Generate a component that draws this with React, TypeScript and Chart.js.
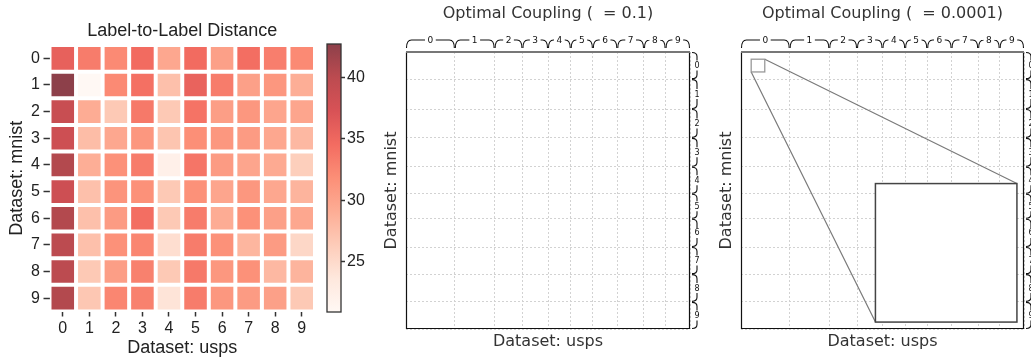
import React, { useEffect, useRef } from 'react';
import { Chart, registerables } from 'chart.js';

Chart.register(...registerables);

// ---------------- data ----------------
const HEAT_COLS = ['0', '1', '2', '3', '4', '5', '6', '7', '8', '9'];
const HEAT_ROWS = ['0', '1', '2', '3', '4', '5', '6', '7', '8', '9'];

const DIST_ROW_0 = [35.7, 33.3, 32.2, 34.6, 29.6, 34.6, 30.3, 34.4, 33.1, 32.2];
const DIST_ROW_1 = [42.7, 20.9, 32.2, 34.2, 27.4, 35.5, 33.3, 30.3, 31.1, 29.0];
const DIST_ROW_2 = [38.8, 29.2, 26.6, 33.5, 26.6, 34.0, 30.5, 31.1, 29.8, 29.8];
const DIST_ROW_3 = [38.3, 27.7, 29.6, 31.1, 27.0, 31.8, 31.1, 30.7, 29.6, 28.1];
const DIST_ROW_4 = [40.5, 29.0, 31.6, 33.3, 22.2, 33.8, 30.7, 29.8, 29.4, 26.1];
const DIST_ROW_5 = [38.3, 27.4, 31.4, 31.6, 26.6, 31.6, 29.8, 31.1, 29.6, 28.5];
const DIST_ROW_6 = [40.5, 27.4, 30.7, 34.4, 26.6, 33.3, 29.2, 31.6, 30.3, 29.6];
const DIST_ROW_7 = [39.9, 27.4, 31.6, 32.5, 24.6, 33.3, 31.6, 28.3, 30.7, 25.3];
const DIST_ROW_8 = [39.9, 26.6, 30.5, 32.9, 26.6, 33.5, 31.1, 31.6, 28.1, 28.5];
const DIST_ROW_9 = [40.5, 26.8, 32.5, 32.9, 24.0, 33.3, 31.1, 30.7, 30.3, 26.6];
const DISTANCES = [
  DIST_ROW_0, DIST_ROW_1, DIST_ROW_2, DIST_ROW_3, DIST_ROW_4,
  DIST_ROW_5, DIST_ROW_6, DIST_ROW_7, DIST_ROW_8, DIST_ROW_9,
];

const CBAR_TICKS = [25, 30, 35, 40];

const CLASS_LABELS = ['0', '1', '2', '3', '4', '5', '6', '7', '8', '9'];
const USPS_COUNTS = [86, 70, 49, 45, 40, 39, 43, 47, 38, 43];
const MNIST_COUNTS = [49, 54, 52, 52, 49, 45, 51, 49, 50, 49];

const INSET_X_RANGE = [18, 42];
const INSET_Y_RANGE = [13, 36];
const INSET_FRAC = [0.475, 0.975];

// ---------------- styles ----------------
const REDS = ['#fff5f0', '#fee0d2', '#fcbba1', '#fc9272', '#fb6a4a', '#ef3b2c', '#cb181d', '#a50f15', '#67000d'];
const ALPHA = 0.75;
const FONT_ARIAL = '"Liberation Sans", Arial, sans-serif';
const FONT_DEJAVU = '"DejaVu Sans", sans-serif';
const TEXT = '#222222';

function hexToRgb(h: string) {
  const n = parseInt(h.slice(1), 16);
  return [(n >> 16) & 255, (n >> 8) & 255, n & 255];
}
function blend(rgb: number[]) {
  return rgb.map((c) => Math.round(ALPHA * c + (1 - ALPHA) * 255));
}
function rgbStr(c: number[]) {
  return `rgb(${c[0]},${c[1]},${c[2]})`;
}
const REDS_RGB = REDS.map(hexToRgb);

const ALL_VALUES = DISTANCES.flat();
const VMIN = Math.min(...ALL_VALUES);
const VMAX = Math.max(...ALL_VALUES);

function colorFor(v: number) {
  const t = Math.max(0, Math.min(1, (v - VMIN) / (VMAX - VMIN)));
  const pos = t * (REDS_RGB.length - 1);
  const i = Math.min(REDS_RGB.length - 2, Math.floor(pos));
  const f = pos - i;
  const a = REDS_RGB[i], b = REDS_RGB[i + 1];
  const c = [0, 1, 2].map((k) => a[k] + (b[k] - a[k]) * f);
  return rgbStr(blend(c));
}

function cumulative(counts: number[]) {
  const out = [0];
  counts.forEach((c) => out.push(out[out.length - 1] + c));
  return out;
}
const sum = (a: number[]) => a.reduce((p, c) => p + c, 0);

// ---------------- plugins ----------------
const cbarFrame = {
  id: 'cbarFrame',
  afterDraw(chart: any) {
    const { ctx, chartArea: a } = chart;
    ctx.save();
    ctx.strokeStyle = '#333';
    ctx.lineWidth = 1.3;
    ctx.strokeRect(a.left, a.top, a.right - a.left, a.bottom - a.top);
    ctx.restore();
  },
};

const couplingPlugin = {
  id: 'coupling',
  afterDraw(chart: any, _args: any, opts: any) {
    const { ctx, chartArea: a, scales } = chart;
    const xs = scales.x, ys = scales.y;
    const w = a.right - a.left, h = a.bottom - a.top;
    ctx.save();

    if (opts.inset) {
      const sx0 = xs.getPixelForValue(INSET_X_RANGE[0]);
      const sx1 = xs.getPixelForValue(INSET_X_RANGE[1]);
      const sy0 = ys.getPixelForValue(INSET_Y_RANGE[0]);
      const sy1 = ys.getPixelForValue(INSET_Y_RANGE[1]);
      const ix0 = a.left + INSET_FRAC[0] * w, ix1 = a.left + INSET_FRAC[1] * w;
      const iy0 = a.top + INSET_FRAC[0] * h, iy1 = a.top + INSET_FRAC[1] * h;
      ctx.strokeStyle = '#7a7a7a';
      ctx.lineWidth = 1.2;
      ctx.beginPath();
      ctx.moveTo(sx1, sy0); ctx.lineTo(ix1, iy0);
      ctx.moveTo(sx0, sy1); ctx.lineTo(ix0, iy1);
      ctx.stroke();
      ctx.strokeStyle = '#999';
      ctx.lineWidth = 1.3;
      ctx.strokeRect(sx0, sy0, sx1 - sx0, sy1 - sy0);
      ctx.fillStyle = '#fff';
      ctx.fillRect(ix0, iy0, ix1 - ix0, iy1 - iy0);
      ctx.strokeStyle = '#444';
      ctx.lineWidth = 1.5;
      ctx.strokeRect(ix0, iy0, ix1 - ix0, iy1 - iy0);
    }

    // frame
    ctx.strokeStyle = '#111';
    ctx.lineWidth = 1.2;
    ctx.beginPath();
    ctx.moveTo(a.left + 0.5, a.top);
    ctx.lineTo(a.left + 0.5, a.bottom - 0.5);
    ctx.lineTo(a.right - 0.5, a.bottom - 0.5);
    ctx.lineTo(a.right - 0.5, a.top);
    ctx.stroke();
    ctx.strokeStyle = '#777';
    ctx.lineWidth = 2.2;
    ctx.beginPath();
    ctx.moveTo(a.left, a.top);
    ctx.lineTo(a.right, a.top);
    ctx.stroke();

    // top braces
    ctx.strokeStyle = '#111';
    ctx.fillStyle = '#111';
    ctx.lineWidth = 1.1;
    ctx.textAlign = 'center';
    ctx.textBaseline = 'middle';
    ctx.font = `9px ${FONT_DEJAVU}`;
    const xb = cumulative(USPS_COUNTS);
    const baseY = a.top - 4, lineY = a.top - 12, r = 5;
    CLASS_LABELS.forEach((lab, i) => {
      const x0 = xs.getPixelForValue(xb[i]) + 0.5, x1 = xs.getPixelForValue(xb[i + 1]) - 0.5;
      const mid = (x0 + x1) / 2;
      const gap = ctx.measureText(lab).width / 2 + 2.5;
      ctx.beginPath();
      ctx.moveTo(x0, baseY);
      ctx.quadraticCurveTo(x0, lineY, x0 + r, lineY);
      ctx.lineTo(mid - gap, lineY);
      ctx.moveTo(mid + gap, lineY);
      ctx.lineTo(x1 - r, lineY);
      ctx.quadraticCurveTo(x1, lineY, x1, baseY);
      ctx.stroke();
      ctx.fillText(lab, mid, lineY + 0.5);
    });

    // right braces
    ctx.font = `8px ${FONT_DEJAVU}`;
    const yb = cumulative(MNIST_COUNTS);
    const baseX = a.right + 2, lineX = a.right + 7, rr = 4;
    CLASS_LABELS.forEach((lab, i) => {
      const y0 = ys.getPixelForValue(yb[i]) + 0.5, y1 = ys.getPixelForValue(yb[i + 1]) - 0.5;
      const mid = (y0 + y1) / 2;
      const gap = 5;
      ctx.beginPath();
      ctx.moveTo(baseX, y0);
      ctx.quadraticCurveTo(lineX, y0, lineX, y0 + rr);
      ctx.lineTo(lineX, mid - gap);
      ctx.moveTo(lineX, mid + gap);
      ctx.lineTo(lineX, y1 - rr);
      ctx.quadraticCurveTo(lineX, y1, baseX, y1);
      ctx.stroke();
      ctx.fillText(lab, lineX, mid + 0.5);
    });

    ctx.restore();
  },
};

// ---------------- configs ----------------
function heatmapConfig(): any {
  const datasets = DISTANCES.map((row, r) => ({
    label: `mnist ${HEAT_ROWS[r]}`,
    data: row.map(() => [r, r + 1]),
    backgroundColor: row.map((v) => colorFor(v)),
    borderColor: '#ffffff',
    borderWidth: 2,
    borderSkipped: false,
    barPercentage: 1,
    categoryPercentage: 1,
    grouped: false,
    inflateAmount: 0,
  }));
  return {
    type: 'bar',
    data: { labels: HEAT_COLS, datasets },
    options: {
      animation: false,
      responsive: false,
      devicePixelRatio: 1,
      layout: { padding: { left: 0, right: 5, top: 0, bottom: 0 } },
      plugins: {
        legend: { display: false },
        tooltip: { enabled: false },
        title: {
          display: true,
          text: 'Label-to-Label Distance',
          fullSize: false,
          color: TEXT,
          font: { family: FONT_ARIAL, size: 18, weight: 'normal', lineHeight: 1.2 },
          padding: { top: 19.9, bottom: 3.5 },
        },
      },
      scales: {
        x: {
          type: 'category',
          offset: true,
          grid: { offset: false, drawOnChartArea: false, drawTicks: true, tickLength: 5, tickColor: '#333', tickWidth: 1.5 },
          border: { display: false },
          ticks: { color: TEXT, font: { family: FONT_ARIAL, size: 16 }, padding: 2, maxRotation: 0 },
          title: {
            display: true, text: 'Dataset: usps', color: TEXT,
            font: { family: FONT_ARIAL, size: 18, lineHeight: 1.2 },
            padding: { top: 0, bottom: 1.5 },
          },
          afterFit: (s: any) => { s.height = 48.5; },
        },
        y: {
          type: 'linear',
          min: 0,
          max: HEAT_ROWS.length,
          reverse: true,
          afterBuildTicks: (s: any) => { s.ticks = HEAT_ROWS.map((_, i) => ({ value: i + 0.5 })); },
          grid: { drawOnChartArea: false, drawTicks: true, tickLength: 6, tickColor: '#333', tickWidth: 1.5 },
          border: { display: false },
          ticks: {
            color: TEXT, font: { family: FONT_ARIAL, size: 16 }, padding: 3.5,
            callback: (_v: any, i: number) => HEAT_ROWS[i],
          },
          title: {
            display: true, text: 'Dataset: mnist', color: TEXT,
            font: { family: FONT_ARIAL, size: 18, lineHeight: 1.2 },
            padding: { top: 6, bottom: 0 },
          },
          afterFit: (s: any) => { s.width = 49.5; },
        },
      },
    },
  };
}

function colorbarConfig(): any {
  return {
    type: 'bar',
    data: {
      labels: ['distance'],
      datasets: [{
        data: [[VMIN, VMAX]],
        backgroundColor: (c: any) => {
          const ca = c.chart.chartArea;
          if (!ca) return colorFor(VMIN);
          const g = c.chart.ctx.createLinearGradient(0, ca.bottom, 0, ca.top);
          REDS_RGB.forEach((rgb, i) => g.addColorStop(i / (REDS_RGB.length - 1), rgbStr(blend(rgb))));
          return g;
        },
        borderWidth: 0,
        barPercentage: 1,
        categoryPercentage: 1,
        inflateAmount: 0,
      }],
    },
    plugins: [cbarFrame],
    options: {
      animation: false,
      responsive: false,
      devicePixelRatio: 1,
      layout: { padding: { left: 12, right: 0, top: 44, bottom: 48 } },
      plugins: { legend: { display: false }, tooltip: { enabled: false } },
      scales: {
        x: { display: false },
        y: {
          position: 'right',
          min: VMIN,
          max: VMAX,
          afterBuildTicks: (s: any) => { s.ticks = CBAR_TICKS.map((v) => ({ value: v })); },
          grid: { drawOnChartArea: false, drawTicks: true, tickLength: 4, tickColor: '#333', tickWidth: 1.5 },
          border: { display: false },
          ticks: { color: TEXT, font: { family: FONT_ARIAL, size: 16 }, padding: 2 },
          afterFit: (s: any) => { s.width = 34; },
        },
      },
    },
  };
}

function couplingConfig(title: string, axisWidth: number, yTitlePad: number, rightPad: number, inset: boolean): any {
  const xb = cumulative(USPS_COUNTS);
  const yb = cumulative(MNIST_COUNTS);
  const gridStyle = { color: '#d2d2d2', lineWidth: 1, drawTicks: false };
  return {
    type: 'scatter',
    data: { datasets: [{ data: [] }] },
    plugins: [couplingPlugin],
    options: {
      animation: false,
      responsive: false,
      devicePixelRatio: 1,
      layout: { padding: { left: 0, right: rightPad, top: 0, bottom: 0 } },
      plugins: {
        legend: { display: false },
        tooltip: { enabled: false },
        coupling: { inset },
        title: {
          display: true,
          text: title,
          fullSize: false,
          color: '#333',
          font: { family: FONT_DEJAVU, size: 16, weight: 'normal', lineHeight: 1.2 },
          padding: { top: 4.4, bottom: 28.4 },
        },
      },
      scales: {
        x: {
          type: 'linear',
          min: 0,
          max: sum(USPS_COUNTS),
          afterBuildTicks: (s: any) => { s.ticks = xb.map((v) => ({ value: v })); },
          grid: gridStyle,
          border: { display: false, dash: [2, 2] },
          ticks: { display: false },
          title: {
            display: true, text: 'Dataset: usps', color: '#333',
            font: { family: FONT_DEJAVU, size: 16, lineHeight: 1.2 },
            padding: { top: 0, bottom: 8.7 },
          },
          afterFit: (s: any) => { s.height = 31; },
        },
        y: {
          type: 'linear',
          min: 0,
          max: sum(MNIST_COUNTS),
          reverse: true,
          afterBuildTicks: (s: any) => { s.ticks = yb.map((v) => ({ value: v })); },
          grid: gridStyle,
          border: { display: false, dash: [2, 2] },
          ticks: { display: false },
          title: {
            display: true, text: 'Dataset: mnist', color: '#333',
            font: { family: FONT_DEJAVU, size: 16, lineHeight: 1.2 },
            padding: { top: yTitlePad, bottom: 0 },
          },
          afterFit: (s: any) => { s.width = axisWidth; },
        },
      },
    },
  };
}

// ---------------- components ----------------
function ChartCanvas(props: { left: number; width: number; config: () => any }) {
  const ref = useRef<HTMLCanvasElement | null>(null);
  useEffect(() => {
    if (!ref.current) return;
    const chart = new Chart(ref.current, props.config());
    return () => chart.destroy();
  }, []);
  return (
    <canvas
      ref={ref}
      width={props.width}
      height={360}
      style={{ position: 'absolute', left: props.left, top: 0, width: props.width, height: 360 }}
    />
  );
}

export default function App() {
  return (
    <div style={{ position: 'fixed', left: 0, top: 0, width: 1031, height: 360, overflow: 'hidden', background: '#fff' }}>
      <ChartCanvas left={0} width={320} config={heatmapConfig} />
      <ChartCanvas left={315} width={60} config={colorbarConfig} />
      <ChartCanvas left={360} width={350} config={() => couplingConfig('Optimal Coupling (  = 0.1)', 46, 22.4, 20, false)} />
      <ChartCanvas left={705} width={345} config={() => couplingConfig('Optimal Coupling (  = 0.0001)', 36, 12.4, 26, true)} />
    </div>
  );
}
